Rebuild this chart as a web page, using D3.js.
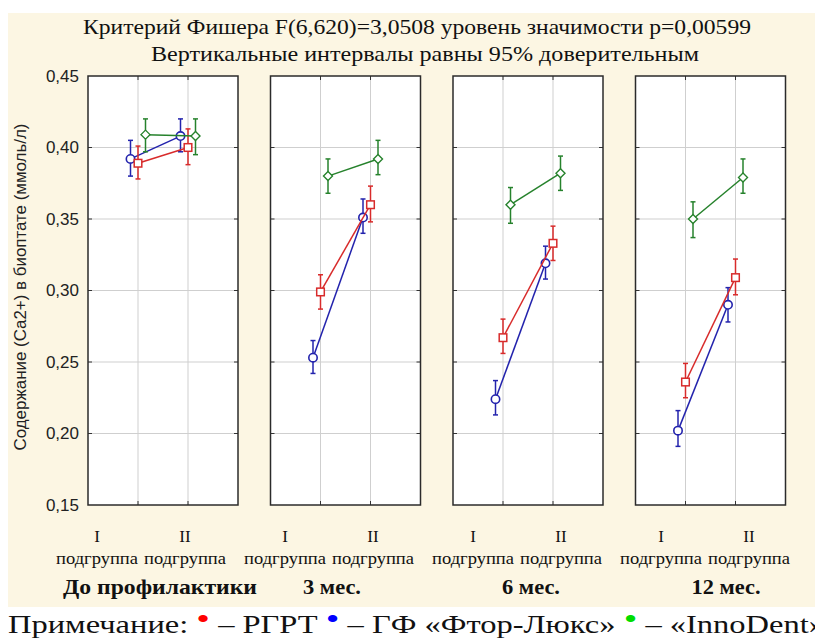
<!DOCTYPE html>
<html>
<head>
<meta charset="utf-8">
<script src="https://cdn.jsdelivr.net/npm/d3@7"></script>
<style>
  body { margin: 0; background: #fff; }
  svg { display: block; }
  .serif { font-family: "Liberation Serif", "Times New Roman", serif; fill: #111; }
  .sans { font-family: "Liberation Sans", Arial, sans-serif; fill: #222; }
</style>
</head>
<body>
<svg id="chart" width="815" height="644"></svg>
<script>
// Данные: периоды, подгруппы, серии
const periods = ["До профилактики", "3 мес.", "6 мес.", "12 мес."];
const subgroups = ["I", "II"];
const seriesNames = ["ГФ «Фтор-Люкс»", "РГРТ", "«InnoDent»"];

// значения по порядку: период x подгруппа (I, II)
const rgrtMean = [0.389, 0.400, 0.299, 0.360, 0.267, 0.333, 0.236, 0.309];
const rgrtLow  = [0.378, 0.388, 0.287, 0.348, 0.256, 0.321, 0.225, 0.297];
const rgrtHigh = [0.401, 0.413, 0.311, 0.373, 0.280, 0.345, 0.249, 0.322];

const ftorMean = [0.392, 0.408, 0.253, 0.351, 0.224, 0.319, 0.202, 0.290];
const ftorLow  = [0.380, 0.397, 0.242, 0.340, 0.213, 0.308, 0.191, 0.278];
const ftorHigh = [0.405, 0.420, 0.265, 0.364, 0.237, 0.331, 0.216, 0.302];

const innoMean = [0.409, 0.408, 0.380, 0.392, 0.360, 0.382, 0.350, 0.379];
const innoLow  = [0.397, 0.395, 0.368, 0.381, 0.347, 0.370, 0.337, 0.368];
const innoHigh = [0.420, 0.420, 0.392, 0.405, 0.372, 0.394, 0.362, 0.392];

const yTicks = [0.15, 0.20, 0.25, 0.30, 0.35, 0.40, 0.45];

const titleLines = [
  "Критерий Фишера F(6,620)=3,0508 уровень значимости p=0,00599",
  "Вертикальные интервалы равны 95% доверительным"
];
const yLabel = "Содержание (Са2+) в биоптате (ммоль/л)";

// Серии с оформлением
const series = [
  { name: seriesNames[0], mean: ftorMean, low: ftorLow, high: ftorHigh, color: "#2323ad", legend: "#0000ff", marker: "circle" },
  { name: seriesNames[1], mean: rgrtMean, low: rgrtLow, high: rgrtHigh, color: "#d82b2b", legend: "#ff0000", marker: "square" },
  { name: seriesNames[2], mean: innoMean, low: innoLow, high: innoHigh, color: "#26822c", legend: "#00dd00", marker: "diamond" }
];

// Разметка
const svg = d3.select("#chart");
const panelTop = 76, panelBottom = 505, panelW = 150, panelX0 = 88, panelStep = 182.5;

svg.append("rect").attr("x", 8).attr("y", 13).attr("width", 807).attr("height", 594)
  .attr("fill", "#fcf6e3");

const y = d3.scaleLinear().domain([0.15, 0.45]).range([panelBottom, panelTop]);
const xPanel = d3.scaleBand().domain(periods).range([panelX0, panelX0 + panelStep * periods.length]).paddingInner(0);
const xSub = d3.scaleLinear().domain([0, subgroups.length + 1]).range([0, panelW]);
const dodge = d3.scalePoint().domain(seriesNames).range([-7.5, 7.5]);
const comma = (v) => d3.format(".2f")(v).replace(".", ",");

// Заголовок
svg.append("text").attr("class", "serif").attr("x", 417).attr("y", 34)
  .attr("text-anchor", "middle").attr("font-size", 21)
  .attr("textLength", 668).attr("lengthAdjust", "spacingAndGlyphs").text(titleLines[0]);
svg.append("text").attr("class", "serif").attr("x", 425).attr("y", 61)
  .attr("text-anchor", "middle").attr("font-size", 21)
  .attr("textLength", 548).attr("lengthAdjust", "spacingAndGlyphs").text(titleLines[1]);

// Подпись оси Y
svg.append("text").attr("class", "sans")
  .attr("transform", "translate(26,287) rotate(-90)")
  .attr("text-anchor", "middle").attr("font-size", 16)
  .attr("textLength", 327).attr("lengthAdjust", "spacingAndGlyphs").text(yLabel);

// Метки оси Y
const yAxis = d3.axisLeft(y).tickValues(yTicks).tickFormat(comma).tickSize(0).tickPadding(9);
svg.append("g").attr("transform", `translate(${panelX0},0)`).call(yAxis)
  .call((g) => g.select(".domain").remove())
  .selectAll("text").attr("class", "sans").attr("font-size", 17).attr("fill", "#222");

// Панели
periods.forEach((period, pi) => {
  const left = xPanel(period);
  const g = svg.append("g").attr("transform", `translate(${left},0)`);

  g.append("rect").attr("x", 0).attr("y", panelTop).attr("width", panelW)
    .attr("height", panelBottom - panelTop).attr("fill", "#fff");

  // сетка
  g.selectAll(".gy").data(yTicks.slice(1, -1)).join("line")
    .attr("x1", 0).attr("x2", panelW).attr("y1", (d) => y(d)).attr("y2", (d) => y(d))
    .attr("stroke", "#cfcfcf").attr("stroke-width", 1);
  g.selectAll(".gx").data(subgroups).join("line")
    .attr("x1", (d, i) => xSub(i + 1)).attr("x2", (d, i) => xSub(i + 1))
    .attr("y1", panelTop).attr("y2", panelBottom)
    .attr("stroke", "#cfcfcf").attr("stroke-width", 1);

  // короткие штрихи внутрь
  yTicks.slice(1, -1).forEach((t) => {
    g.append("line").attr("x1", 0).attr("x2", 4).attr("y1", y(t)).attr("y2", y(t)).attr("stroke", "#333");
    g.append("line").attr("x1", panelW - 4).attr("x2", panelW).attr("y1", y(t)).attr("y2", y(t)).attr("stroke", "#333");
  });
  subgroups.forEach((s, i) => {
    g.append("line").attr("x1", xSub(i + 1)).attr("x2", xSub(i + 1))
      .attr("y1", panelBottom - 4).attr("y2", panelBottom).attr("stroke", "#333");
    g.append("line").attr("x1", xSub(i + 1)).attr("x2", xSub(i + 1))
      .attr("y1", panelTop).attr("y2", panelTop + 4).attr("stroke", "#333");
  });

  // серии
  series.forEach((s) => {
    const pts = subgroups.map((sub, si) => {
      const k = pi * subgroups.length + si;
      return { x: xSub(si + 1) + dodge(s.name), m: s.mean[k], lo: s.low[k], hi: s.high[k] };
    });

    g.append("path").datum(pts)
      .attr("d", d3.line().x((d) => d.x).y((d) => y(d.m)))
      .attr("fill", "none").attr("stroke", s.color).attr("stroke-width", 1.5);

    pts.forEach((d) => {
      g.append("line").attr("x1", d.x).attr("x2", d.x).attr("y1", y(d.lo)).attr("y2", y(d.hi))
        .attr("stroke", s.color).attr("stroke-width", 1.5);
      [d.lo, d.hi].forEach((v) => {
        g.append("line").attr("x1", d.x - 2.5).attr("x2", d.x + 2.5).attr("y1", y(v)).attr("y2", y(v))
          .attr("stroke", s.color).attr("stroke-width", 1.5);
      });

      if (s.marker === "circle") {
        g.append("circle").attr("cx", d.x).attr("cy", y(d.m)).attr("r", 4.2)
          .attr("fill", "#fff").attr("stroke", s.color).attr("stroke-width", 1.6);
      } else if (s.marker === "square") {
        g.append("rect").attr("x", d.x - 3.8).attr("y", y(d.m) - 3.8).attr("width", 7.6).attr("height", 7.6)
          .attr("fill", "#fff").attr("stroke", s.color).attr("stroke-width", 1.5);
      } else {
        g.append("path").attr("transform", `translate(${d.x},${y(d.m)})`)
          .attr("d", "M0,-4.5L4.5,0L0,4.5L-4.5,0Z")
          .attr("fill", "#fff").attr("stroke", s.color).attr("stroke-width", 1.4);
      }
    });
  });

  g.append("rect").attr("x", 0).attr("y", panelTop).attr("width", panelW)
    .attr("height", panelBottom - panelTop).attr("fill", "none")
    .attr("stroke", "#2b2b2b").attr("stroke-width", 1.5);
});

// Подписи подгрупп и периодов
const subLabelX0 = 97, subLabelStep = 188, subLabelGap = 88;
const groupLabelX = [160, 332, 531, 726];
const groupLabelW = [194, 58, 58, 69];

periods.forEach((period, pi) => {
  subgroups.forEach((sub, si) => {
    const cx = subLabelX0 + pi * subLabelStep + si * subLabelGap;
    svg.append("text").attr("class", "serif").attr("x", cx).attr("y", 542)
      .attr("text-anchor", "middle").attr("font-size", 17).text(sub);
    svg.append("text").attr("class", "serif").attr("x", cx).attr("y", 564)
      .attr("text-anchor", "middle").attr("font-size", 17)
      .attr("textLength", 82).attr("lengthAdjust", "spacingAndGlyphs").text("подгруппа");
  });
  svg.append("text").attr("class", "serif").attr("x", groupLabelX[pi]).attr("y", 594)
    .attr("text-anchor", "middle").attr("font-size", 22).attr("font-weight", "bold")
    .attr("textLength", groupLabelW[pi]).attr("lengthAdjust", "spacingAndGlyphs").text(period);
});

// Примечание (легенда)
const note = svg.append("text").attr("class", "serif").attr("x", 8).attr("y", 633)
  .attr("font-size", 25).attr("textLength", 817).attr("lengthAdjust", "spacingAndGlyphs");
note.append("tspan").text("Примечание: ");
[series[1], series[0], series[2]].forEach((s, i) => {
  note.append("tspan").attr("fill", s.legend).attr("font-size", 30).attr("dy", -4).text("•");
  note.append("tspan").attr("dy", 4).text(" – " + (s.name === "РГРТ" ? "РГРТ" : s.name) + (i < 2 ? " " : ""));
});
</script>
</body>
</html>
